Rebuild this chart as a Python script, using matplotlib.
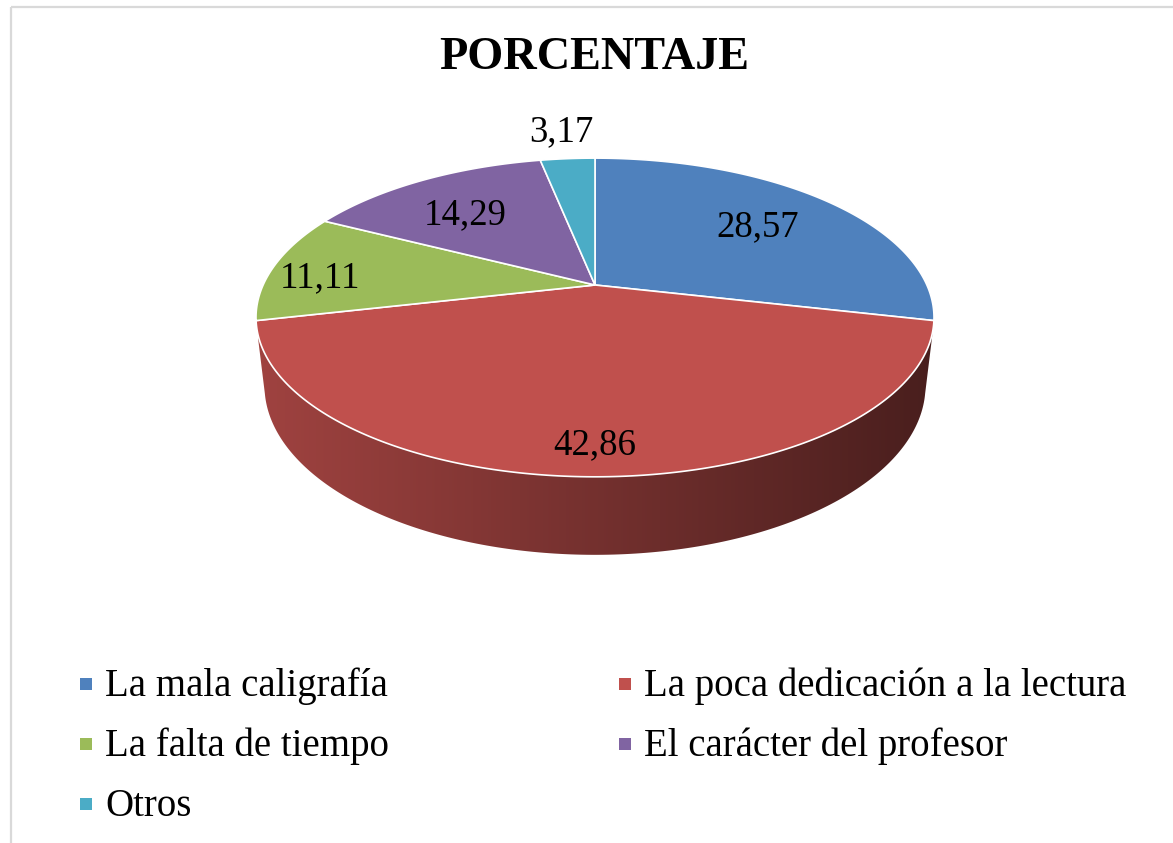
import numpy as np
import matplotlib.pyplot as plt
from matplotlib.patches import Polygon, Rectangle

plt.rcParams['font.family'] = ['Liberation Serif', 'DejaVu Serif']

categorias = ['La mala caligrafía', 'La poca dedicación a la lectura',
              'La falta de tiempo', 'El carácter del profesor', 'Otros']
porcentajes = [28.57, 42.86, 11.11, 14.29, 3.17]
colores = ['#4f81bd', '#c0504d', '#9bbb59', '#8064a2', '#4bacc6']
# radial position of each value label (fraction of radius) and a small nudge in px
radio_etiqueta = [0.68, 0.85, 0.853, 0.727, 1.3]
ajuste_y = [2, 3, 9, 9, 3]

# geometry of the tilted pie, in pixels
CX, CY = 595, 285
FOC = 1446.0
DIST = 4.357
PHI = np.radians(27.4)
ALTO = 0.2334


def proyectar(r, ang, h=0.0):
    ang = np.radians(ang)
    x = r * np.cos(ang)
    y = r * np.sin(ang)
    c, s = np.cos(PHI), np.sin(PHI)
    prof = y * c + DIST + h * s
    v = y * s - h * c
    return CX + FOC * x / prof, CY - FOC * v / prof


fig = plt.figure(figsize=(11.73, 8.43), dpi=100)
ax = fig.add_axes([0, 0, 1, 1])
ax.set_xlim(0, 1173)
ax.set_ylim(843, 0)
ax.axis('off')

# chart border
ax.add_patch(Rectangle((11, 7), 1200, 900, fill=False, edgecolor='#d9d9d9', lw=1.6))

total = sum(porcentajes)
bordes = 90 - 360 * np.concatenate([[0], np.cumsum(porcentajes)]) / total

# side wall: only the front part, shaded left (light) to right (dark)
lim_ang = np.degrees(np.arcsin(-1.0 / (DIST * np.cos(PHI))))
vis_a, vis_b = lim_ang, -180 - lim_ang  # e.g. -15 .. -165
x_izq, x_der = 258, 935
t = np.linspace(0, 1, 400)
for i, col in enumerate(colores):
    a0, a1 = bordes[i], bordes[i + 1]
    # bring angles into (-270, 90] so the front is continuous
    lo, hi = min(a0, a1), max(a0, a1)
    lo2, hi2 = max(lo, vis_b - 1), min(hi, vis_a + 1)
    if lo2 >= hi2:
        lo, hi = lo - 360, hi - 360
        lo2, hi2 = max(lo, vis_b - 1), min(hi, vis_a + 1)
    if lo2 >= hi2:
        continue
    angs = np.linspace(hi2, lo2, 200)
    sup = [proyectar(1, a) for a in angs]
    inf = [proyectar(1, a, ALTO) for a in angs[::-1]]
    lado = Polygon(sup + inf, closed=True, facecolor='none', edgecolor='none')
    ax.add_patch(lado)
    rgb = np.array(plt.matplotlib.colors.to_rgb(col))
    f = 0.83 - 0.45 * t
    grad = np.clip(f[:, None] * rgb[None, :], 0, 1)[None, :, :]
    im = ax.imshow(grad, extent=(x_izq, x_der, 600, 250), aspect='auto',
                   interpolation='bilinear', zorder=1)
    im.set_clip_path(lado)

# top face
for i, col in enumerate(colores):
    a0, a1 = bordes[i], bordes[i + 1]
    angs = np.linspace(a0, a1, 200)
    pts = [proyectar(0, 0)] + [proyectar(1, a) for a in angs]
    ax.add_patch(Polygon(pts, closed=True, facecolor=col, edgecolor='white',
                         lw=1.2, zorder=2))

# value labels
for i, v in enumerate(porcentajes):
    medio = (bordes[i] + bordes[i + 1]) / 2
    x, y = proyectar(radio_etiqueta[i], medio)
    ax.text(x, y + ajuste_y[i], f'{v:.2f}'.replace('.', ','), fontsize=26.5,
            ha='center', va='center', color='black', zorder=3)

ax.text(594, 58, 'PORCENTAJE', fontsize=33.3, fontweight='bold',
        ha='center', va='center', color='black')

# legend, filled row by row in two columns
col_x = [80, 619]
fila_y = [684, 744, 804]
for i, (nombre, col) in enumerate(zip(categorias, colores)):
    x0 = col_x[i % 2]
    y0 = fila_y[i // 2]
    ax.add_patch(Rectangle((x0, y0 - 6), 12, 12, facecolor=col, edgecolor='none'))
    ax.text(x0 + 25, y0 + 2, nombre, fontsize=28, ha='left', va='center', color='black')

fig.savefig('out.png', dpi=100)
